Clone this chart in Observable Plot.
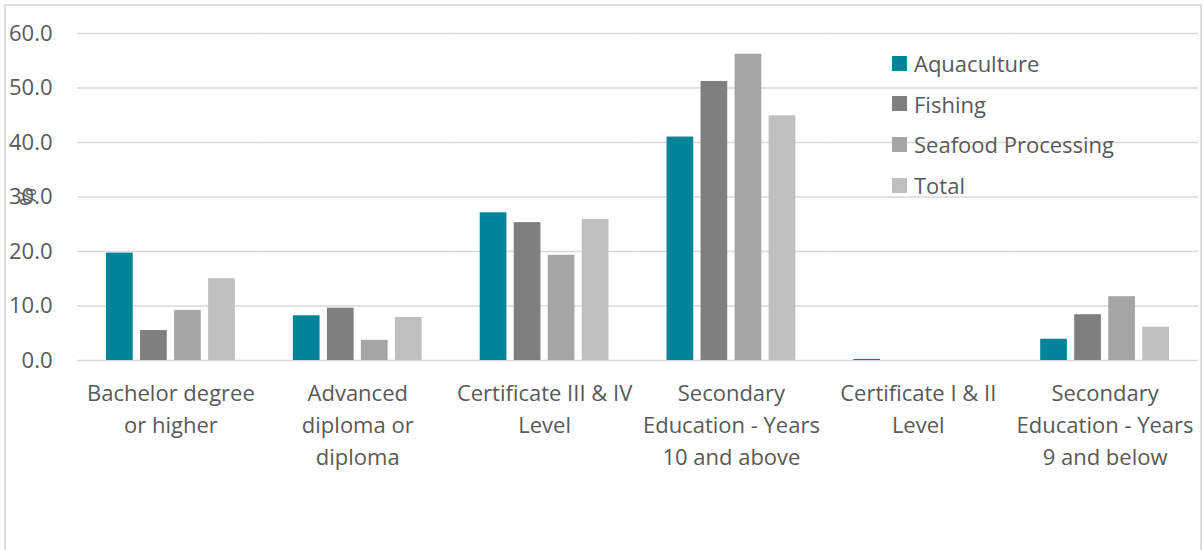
<!DOCTYPE html>
<html>
<head>
<meta charset="utf-8">
<script src="https://cdn.jsdelivr.net/npm/d3@7"></script>
<script src="https://cdn.jsdelivr.net/npm/@observablehq/plot@0.6"></script>
<style>
  body { margin: 0; background: #fff; font-family: "Open Sans", sans-serif; }
  #wrap { position: relative; width: 1203px; height: 550px; overflow: hidden; }
  #wrap svg { position: absolute; left: 0; top: 0; display: block; }
  #frame { position: absolute; left: 4px; top: 4px; width: 1198px; height: 620px;
           border: 2px solid #dedede; box-sizing: border-box; pointer-events: none; }
  #legend { position: absolute; left: 892px; top: 43px; color: #595959; font-size: 22px; }
  #legend .row { display: flex; align-items: center; height: 40.6px; }
  #legend .sw { width: 15px; height: 15px; margin-right: 7px; flex: none; }
</style>
</head>
<body>
<div id="wrap"><div id="frame"></div></div>
<script>
// Highest level of education by sector (%)
const categories = [
  "Bachelor degree or higher",
  "Advanced diploma or diploma",
  "Certificate III & IV Level",
  "Secondary Education - Years 10 and above",
  "Certificate I & II Level",
  "Secondary Education - Years 9 and below"
];
const tickLabels = [
  "Bachelor degree\nor higher",
  "Advanced\ndiploma or\ndiploma",
  "Certificate III & IV\nLevel",
  "Secondary\nEducation - Years\n10 and above",
  "Certificate I & II\nLevel",
  "Secondary\nEducation - Years\n9 and below"
];
const series = ["Aquaculture", "Fishing", "Seafood Processing", "Total"];
const colors = ["#01849a", "#7f7f7f", "#a5a5a5", "#bfbfbf"];

const aquaculture = [19.7, 8.2, 27.1, 41.0, 0.2, 3.9];
const fishing     = [5.5, 9.6, 25.3, 51.2, 0.0, 8.4];
const seafood     = [9.2, 3.7, 19.3, 56.2, 0.0, 11.7];
const total       = [15.0, 7.9, 25.9, 44.9, 0.0, 6.1];
const yTicks = [0, 10, 20, 30, 40, 50, 60];

const seriesValues = [aquaculture, fishing, seafood, total];
const rows = categories.flatMap((c, i) =>
  series.map((s, j) => ({category: c, series: s, value: seriesValues[j][i]}))
);

const ink = "#595959";
const chart = Plot.plot({
  width: 1203,
  height: 550,
  marginLeft: 77,
  marginRight: 5,
  marginTop: 33,
  marginBottom: 190,
  style: {fontFamily: '"Open Sans", sans-serif', fontSize: "22px", color: ink, background: "transparent", overflow: "visible"},
  fx: {domain: categories, padding: 0, round: false, label: null},
  x: {domain: series, paddingInner: 0.215, paddingOuter: 0.853, round: false, axis: null},
  y: {domain: [0, 60]},
  color: {domain: series, range: colors},
  marks: [
    Plot.gridY(yTicks, {stroke: "#d9d9d9", strokeOpacity: 1, strokeWidth: 1.4}),
    Plot.axisY(yTicks, {
      tickSize: 0, tickPadding: 25, tickFormat: d => d.toFixed(1),
      fontSize: 22, fill: ink,
      label: "%", labelAnchor: "center", labelArrow: false, labelOffset: 57
    }),
    Plot.axisFx({
      anchor: "bottom",
      tickSize: 0, tickPadding: 18, fontSize: 22, fill: ink, lineHeight: 32 / 22,
      tickFormat: d => tickLabels[categories.indexOf(d)], label: null
    }),
    Plot.barY(rows, {fx: "category", x: "series", y: "value", fill: "series"})
  ]
});
const wrap = document.getElementById("wrap");
wrap.insertBefore(chart, wrap.firstChild);

// Legend in the upper right of the plot area
const legend = d3.select(wrap).append("div").attr("id", "legend");
const item = legend.selectAll(".row").data(series).join("div").attr("class", "row");
item.append("div").attr("class", "sw").style("background", (d, i) => colors[i]);
item.append("span").text(d => d);
</script>
</body>
</html>
